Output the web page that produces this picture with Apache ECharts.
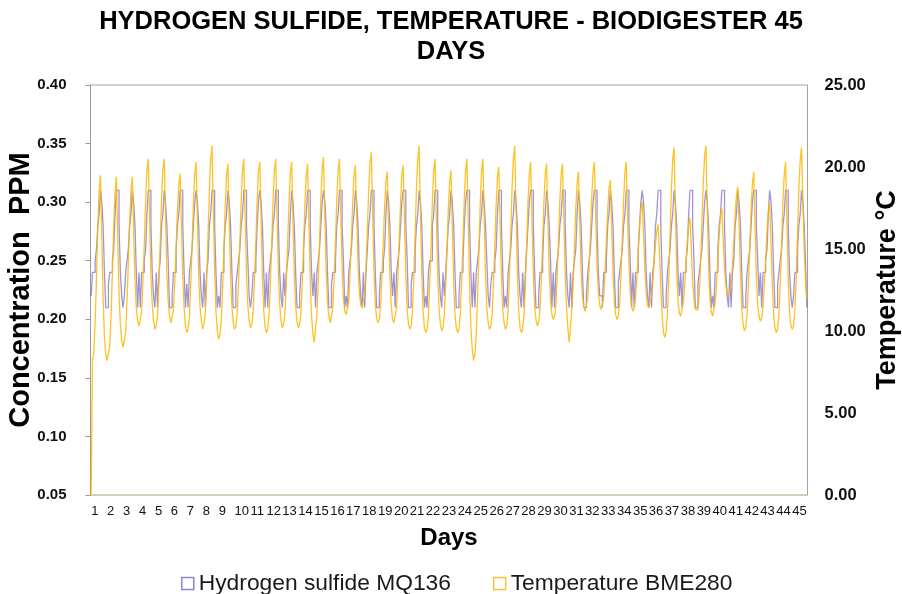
<!DOCTYPE html>
<html>
<head>
<meta charset="utf-8">
<script src="https://cdn.jsdelivr.net/npm/echarts@6/dist/echarts.min.js"></script>
<style>
  html, body { margin: 0; padding: 0; background: #fff; }
  #chart { width: 902px; height: 594px; }
</style>
</head>
<body>
<div id="chart"></div>
<script>
// day labels on the x axis, one reading every 2 hours
const days = [1, 2, 3, 4, 5, 6, 7, 8, 9, 10, 11, 12, 13, 14, 15, 16, 17, 18, 19, 20, 21, 22, 23,
  24, 25, 26, 27, 28, 29, 30, 31, 32, 33, 34, 35, 36, 37, 38, 39, 40, 41, 42, 43, 44, 45]
const samplesPerDay = 12

// Hydrogen sulfide MQ136 (ppm)
const h2s = [
  0.22, 0.24, 0.24, 0.25, 0.26, 0.28, 0.29, 0.31, 0.30, 0.28, 0.24, 0.21, // 1
  0.21, 0.23, 0.24, 0.24, 0.25, 0.26, 0.29, 0.31, 0.31, 0.28, 0.24, 0.22, // 2
  0.21, 0.22, 0.24, 0.25, 0.26, 0.28, 0.29, 0.31, 0.30, 0.28, 0.24, 0.21, // 3
  0.24, 0.21, 0.24, 0.24, 0.25, 0.26, 0.29, 0.31, 0.31, 0.28, 0.24, 0.22, // 4
  0.21, 0.24, 0.21, 0.24, 0.25, 0.28, 0.29, 0.31, 0.30, 0.28, 0.25, 0.21, // 5
  0.21, 0.22, 0.24, 0.24, 0.26, 0.28, 0.29, 0.31, 0.31, 0.28, 0.24, 0.21, // 6
  0.23, 0.21, 0.24, 0.25, 0.26, 0.28, 0.30, 0.31, 0.30, 0.28, 0.24, 0.22, // 7
  0.21, 0.24, 0.21, 0.24, 0.25, 0.28, 0.29, 0.31, 0.31, 0.28, 0.24, 0.21, // 8
  0.22, 0.21, 0.24, 0.24, 0.26, 0.28, 0.29, 0.31, 0.30, 0.28, 0.24, 0.21, // 9
  0.21, 0.23, 0.24, 0.25, 0.26, 0.28, 0.29, 0.31, 0.31, 0.28, 0.25, 0.22, // 10
  0.21, 0.22, 0.24, 0.24, 0.25, 0.28, 0.30, 0.31, 0.30, 0.28, 0.24, 0.21, // 11
  0.24, 0.21, 0.24, 0.25, 0.26, 0.28, 0.29, 0.31, 0.31, 0.28, 0.24, 0.22, // 12
  0.21, 0.24, 0.22, 0.24, 0.25, 0.26, 0.29, 0.31, 0.30, 0.28, 0.24, 0.21, // 13
  0.21, 0.22, 0.24, 0.24, 0.26, 0.28, 0.29, 0.31, 0.31, 0.28, 0.24, 0.22, // 14
  0.24, 0.21, 0.24, 0.25, 0.26, 0.28, 0.30, 0.31, 0.30, 0.28, 0.24, 0.21, // 15
  0.21, 0.23, 0.24, 0.24, 0.25, 0.28, 0.29, 0.31, 0.31, 0.28, 0.25, 0.21, // 16
  0.22, 0.21, 0.24, 0.25, 0.26, 0.28, 0.29, 0.31, 0.30, 0.28, 0.24, 0.22, // 17
  0.21, 0.24, 0.21, 0.24, 0.26, 0.28, 0.29, 0.31, 0.31, 0.28, 0.24, 0.21, // 18
  0.21, 0.22, 0.24, 0.24, 0.25, 0.26, 0.29, 0.31, 0.30, 0.28, 0.24, 0.22, // 19
  0.24, 0.21, 0.24, 0.25, 0.26, 0.28, 0.30, 0.31, 0.31, 0.28, 0.25, 0.21, // 20
  0.21, 0.23, 0.24, 0.24, 0.26, 0.28, 0.29, 0.31, 0.30, 0.28, 0.24, 0.21, // 21
  0.22, 0.21, 0.24, 0.25, 0.25, 0.28, 0.29, 0.31, 0.31, 0.28, 0.24, 0.22, // 22
  0.21, 0.24, 0.22, 0.24, 0.26, 0.28, 0.29, 0.31, 0.30, 0.28, 0.24, 0.21, // 23
  0.21, 0.22, 0.24, 0.24, 0.25, 0.28, 0.30, 0.31, 0.31, 0.28, 0.24, 0.21, // 24
  0.24, 0.21, 0.24, 0.25, 0.26, 0.28, 0.29, 0.31, 0.30, 0.28, 0.25, 0.22, // 25
  0.21, 0.23, 0.24, 0.24, 0.25, 0.26, 0.29, 0.31, 0.31, 0.28, 0.24, 0.21, // 26
  0.22, 0.21, 0.24, 0.25, 0.26, 0.28, 0.29, 0.31, 0.30, 0.28, 0.24, 0.22, // 27
  0.21, 0.24, 0.21, 0.24, 0.26, 0.28, 0.30, 0.31, 0.31, 0.28, 0.24, 0.21, // 28
  0.21, 0.22, 0.24, 0.24, 0.25, 0.28, 0.29, 0.31, 0.30, 0.28, 0.25, 0.21, // 29
  0.24, 0.21, 0.24, 0.25, 0.26, 0.28, 0.29, 0.31, 0.31, 0.28, 0.24, 0.22, // 30
  0.21, 0.24, 0.21, 0.24, 0.25, 0.26, 0.29, 0.31, 0.30, 0.28, 0.24, 0.21, // 31
  0.21, 0.22, 0.24, 0.25, 0.26, 0.28, 0.30, 0.31, 0.31, 0.28, 0.24, 0.22, // 32
  0.22, 0.21, 0.24, 0.24, 0.25, 0.28, 0.29, 0.31, 0.30, 0.28, 0.24, 0.21, // 33
  0.21, 0.23, 0.24, 0.25, 0.26, 0.28, 0.29, 0.31, 0.31, 0.28, 0.25, 0.21, // 34
  0.24, 0.21, 0.24, 0.24, 0.26, 0.28, 0.30, 0.31, 0.30, 0.28, 0.24, 0.22, // 35
  0.21, 0.24, 0.21, 0.24, 0.25, 0.28, 0.29, 0.31, 0.31, 0.28, 0.24, 0.21, // 36
  0.21, 0.22, 0.24, 0.25, 0.26, 0.28, 0.29, 0.31, 0.30, 0.28, 0.24, 0.22, // 37
  0.24, 0.21, 0.24, 0.24, 0.25, 0.26, 0.29, 0.31, 0.31, 0.28, 0.25, 0.21, // 38
  0.21, 0.23, 0.24, 0.25, 0.26, 0.28, 0.30, 0.31, 0.30, 0.28, 0.24, 0.21, // 39
  0.22, 0.21, 0.24, 0.24, 0.26, 0.28, 0.29, 0.31, 0.31, 0.28, 0.24, 0.22, // 40
  0.21, 0.24, 0.21, 0.24, 0.25, 0.28, 0.29, 0.31, 0.30, 0.28, 0.24, 0.21, // 41
  0.21, 0.22, 0.24, 0.25, 0.26, 0.28, 0.30, 0.31, 0.31, 0.28, 0.25, 0.22, // 42
  0.24, 0.21, 0.24, 0.24, 0.25, 0.26, 0.29, 0.31, 0.30, 0.28, 0.24, 0.21, // 43
  0.21, 0.23, 0.24, 0.25, 0.26, 0.28, 0.29, 0.31, 0.31, 0.28, 0.24, 0.22, // 44
  0.21, 0.22, 0.24, 0.24, 0.26, 0.28, 0.29, 0.31, 0.30, 0.28, 0.25, 0.21  // 45
]

// Temperature BME280 (°C)
const temperature = [
  0.0, 8.2, 8.7, 10.6, 13.2, 16.4, 18.6, 19.5, 15.8, 12.0, 9.6, 8.6,          // 1
  8.2, 8.3, 9.1, 11.0, 13.6, 16.5, 18.5, 19.4, 15.6, 12.2, 10.4, 9.4,         // 2
  9.0, 9.1, 9.9, 11.8, 14.2, 16.8, 18.6, 19.4, 16.0, 13.1, 11.4, 10.6,        // 3
  10.3, 10.4, 11.2, 13.0, 15.3, 17.9, 19.8, 20.5, 16.8, 13.4, 11.6, 10.6,     // 4
  10.1, 10.3, 11.0, 12.9, 15.4, 18.1, 19.9, 20.5, 16.9, 13.5, 11.8, 10.9,     // 5
  10.5, 10.6, 11.3, 13.1, 15.2, 17.4, 19.0, 19.6, 16.4, 13.2, 11.4, 10.3,     // 6
  9.9, 10.1, 10.9, 12.8, 15.2, 17.8, 19.6, 20.3, 16.7, 13.3, 11.5, 10.6,      // 7
  10.1, 10.4, 11.2, 13.2, 15.8, 18.6, 20.5, 21.3, 17.4, 13.6, 11.2, 10.0,     // 8
  9.5, 9.8, 10.6, 12.6, 15.1, 17.7, 19.5, 20.2, 16.6, 13.3, 11.5, 10.5,       // 9
  10.1, 10.3, 11.1, 13.0, 15.4, 18.0, 19.8, 20.5, 16.8, 13.4, 11.6, 10.6,     // 10
  10.2, 10.4, 11.2, 13.1, 15.4, 17.9, 19.7, 20.3, 16.7, 13.2, 11.2, 10.2,     // 11
  9.9, 10.1, 11.0, 12.9, 15.3, 18.0, 19.8, 20.5, 16.9, 13.5, 11.6, 10.6,      // 12
  10.2, 10.4, 11.2, 13.0, 15.4, 17.9, 19.6, 20.3, 16.7, 13.4, 11.5, 10.6,     // 13
  10.2, 10.4, 11.1, 13.0, 15.3, 17.8, 19.5, 20.2, 16.5, 13.1, 10.9, 9.8,      // 14
  9.3, 10.2, 11.0, 12.9, 15.4, 18.1, 19.9, 20.6, 16.9, 13.6, 11.8, 10.9,      // 15
  10.5, 10.6, 11.4, 13.2, 15.5, 18.0, 19.8, 20.5, 17.0, 13.8, 12.0, 11.2,     // 16
  11.0, 11.1, 11.8, 13.5, 15.6, 17.9, 19.5, 20.1, 16.9, 13.9, 12.3, 11.6,     // 17
  11.4, 11.5, 12.2, 13.9, 16.1, 18.6, 20.2, 20.9, 17.3, 13.6, 11.6, 10.8,     // 18
  10.5, 10.7, 11.5, 13.3, 15.4, 17.6, 19.1, 19.7, 16.4, 13.4, 11.5, 10.7,     // 19
  10.5, 10.6, 11.4, 13.2, 15.5, 17.8, 19.5, 20.1, 16.6, 13.3, 11.3, 10.4,     // 20
  10.1, 10.3, 11.2, 13.3, 15.9, 18.7, 20.5, 21.3, 17.3, 13.5, 11.2, 10.2,     // 21
  9.9, 10.1, 11.0, 12.9, 15.3, 18.0, 19.8, 20.5, 16.8, 13.4, 11.4, 10.4,      // 22
  10.0, 10.2, 11.0, 12.8, 15.0, 17.5, 19.1, 19.8, 16.3, 13.0, 11.0, 10.2,     // 23
  9.9, 10.1, 11.0, 12.9, 15.3, 18.0, 19.8, 20.5, 16.5, 12.8, 10.2, 8.9,       // 24
  8.2, 8.6, 9.8, 12.0, 14.8, 17.7, 19.7, 20.5, 16.8, 13.4, 11.4, 10.5,        // 25
  10.1, 10.3, 11.1, 12.9, 15.2, 17.7, 19.4, 20.0, 16.5, 13.2, 11.3, 10.5,     // 26
  10.1, 10.3, 11.2, 13.3, 15.9, 18.7, 20.5, 21.3, 17.3, 13.5, 11.2, 10.2,     // 27
  9.9, 10.1, 11.0, 12.9, 15.2, 17.9, 19.6, 20.3, 16.7, 13.4, 11.5, 10.7,      // 28
  10.3, 10.5, 11.3, 13.1, 15.4, 17.9, 19.6, 20.2, 16.7, 13.6, 11.8, 11.0,     // 29
  10.7, 10.9, 11.6, 13.4, 15.6, 18.0, 19.6, 20.2, 16.8, 13.5, 11.4, 10.2,     // 30
  9.3, 10.3, 11.2, 13.0, 15.1, 17.5, 19.1, 19.7, 16.5, 13.6, 12.1, 11.5,      // 31
  11.2, 11.3, 12.0, 13.8, 15.9, 18.2, 19.7, 20.3, 17.0, 14.0, 12.3, 11.6,     // 32
  11.3, 11.4, 12.0, 13.6, 15.5, 17.3, 18.7, 19.2, 16.3, 13.6, 11.8, 11.0,     // 33
  10.7, 10.9, 11.6, 13.4, 15.6, 18.0, 19.7, 20.3, 16.9, 14.0, 12.3, 11.5,     // 34
  11.2, 11.4, 12.0, 13.3, 14.8, 16.3, 17.4, 17.9, 15.8, 13.8, 12.3, 11.6,     // 35
  11.4, 11.5, 12.1, 13.0, 14.2, 15.3, 16.1, 16.5, 14.8, 12.8, 11.0, 9.9,      // 36
  9.6, 10.0, 11.0, 13.2, 15.9, 18.7, 20.5, 21.2, 17.2, 13.7, 11.8, 11.1,      // 37
  10.9, 11.0, 11.7, 12.8, 14.2, 15.5, 16.5, 16.9, 15.0, 13.0, 11.9, 11.3,     // 38
  11.2, 11.3, 12.2, 14.2, 16.6, 19.0, 20.7, 21.3, 17.5, 14.0, 12.0, 11.2,     // 39
  10.9, 11.0, 11.7, 12.9, 14.4, 15.9, 17.0, 17.5, 15.6, 13.8, 12.8, 12.3,     // 40
  12.1, 12.2, 12.8, 14.0, 15.5, 17.1, 18.3, 18.8, 16.3, 13.5, 11.4, 10.4,     // 41
  10.0, 10.2, 11.0, 12.8, 15.0, 17.4, 19.0, 19.7, 16.4, 13.4, 11.6, 10.9,     // 42
  10.6, 10.8, 11.5, 12.8, 14.4, 16.1, 17.3, 17.8, 15.4, 12.9, 11.0, 10.2,     // 43
  9.9, 10.1, 11.0, 12.9, 15.3, 17.9, 19.6, 20.3, 16.6, 13.2, 11.1, 10.3,      // 44
  10.1, 10.3, 11.2, 13.3, 15.9, 18.7, 20.4, 21.2, 18.0, 15.0, 13.0, 12.0      // 45
]

// one category per reading, labelled with its day
const categories = []
days.forEach(d => {
  for (let i = 0; i < samplesPerDay; i++) categories.push(String(d))
})

const purple = 'rgba(100, 84, 188, 0.62)'
const gold = 'rgba(252, 184, 0, 0.85)'
const sans = "'Liberation Sans', Arial, sans-serif"

const chart = echarts.init(document.getElementById('chart'))

chart.setOption({
  animation: false,
  backgroundColor: '#fff',
  title: {
    text: 'HYDROGEN SULFIDE, TEMPERATURE - BIODIGESTER 45\nDAYS',
    left: 'center',
    top: 7,
    padding: 0,
    textStyle: { fontFamily: sans, fontSize: 25.5, fontWeight: 'bold', color: '#000', lineHeight: 30 }
  },
  legend: {
    left: 181,
    top: 572,
    padding: 0,
    icon: 'rect',
    itemWidth: 12,
    itemHeight: 12,
    itemGap: 42,
    textStyle: { fontFamily: sans, fontSize: 22.8, color: '#1a1a1a' },
    data: [
      { name: 'Hydrogen sulfide MQ136', itemStyle: { color: '#fff', borderColor: '#8f84d2', borderWidth: 1.5 } },
      { name: 'Temperature BME280', itemStyle: { color: '#fff', borderColor: '#f7c232', borderWidth: 1.5 } }
    ]
  },
  grid: {
    left: 90.5,
    right: 94.5,
    top: 85,
    bottom: 99,
    outerBoundsMode: 'none',
    show: true,
    borderColor: '#a3a3a3',
    borderWidth: 1
  },
  xAxis: {
    type: 'category',
    data: categories,
    boundaryGap: true,
    axisLine: { lineStyle: { color: '#d8cfa3' } },
    axisTick: { show: false },
    axisLabel: {
      interval: (index) => index % samplesPerDay === 0,
      align: 'left',
      margin: 10,
      fontFamily: sans,
      fontSize: 13,
      color: '#111'
    },
    splitLine: { show: false },
    name: 'Days',
    nameLocation: 'middle',
    nameGap: 31,
    nameMoveOverlap: false,
    nameTextStyle: { fontFamily: sans, fontSize: 24, fontWeight: 'bold', color: '#000' }
  },
  yAxis: [
    {
      type: 'value',
      min: 0.05,
      max: 0.4,
      interval: 0.05,
      position: 'left',
      axisLine: { show: true, lineStyle: { color: '#9a9a9a' } },
      axisTick: { show: true, length: 5, lineStyle: { color: '#9a9a9a' } },
      axisLabel: {
        formatter: v => v.toFixed(2),
        margin: 24,
        fontFamily: sans,
        fontSize: 15,
        fontWeight: 'bold',
        color: '#111'
      },
      splitLine: { show: false },
      name: 'Concentration  PPM',
      nameLocation: 'middle',
      nameRotate: 90,
      nameGap: 55,
      nameMoveOverlap: false,
      nameTextStyle: { fontFamily: sans, fontSize: 29, fontWeight: 'bold', color: '#000' }
    },
    {
      type: 'value',
      min: 0,
      max: 25,
      interval: 5,
      position: 'right',
      axisLine: { show: false },
      axisTick: { show: false },
      axisLabel: {
        formatter: v => v.toFixed(2),
        margin: 17,
        fontFamily: sans,
        fontSize: 16.5,
        fontWeight: 'bold',
        color: '#111'
      },
      splitLine: { show: false },
      name: 'Temperature °C',
      nameLocation: 'middle',
      nameRotate: 90,
      nameGap: 67,
      nameMoveOverlap: false,
      nameTextStyle: { fontFamily: sans, fontSize: 27, fontWeight: 'bold', color: '#000' }
    }
  ],
  series: [
    {
      name: 'Hydrogen sulfide MQ136',
      type: 'line',
      yAxisIndex: 0,
      data: h2s,
      step: 'end',
      symbol: 'none',
      lineStyle: { color: purple, width: 1.3 },
      itemStyle: { color: purple }
    },
    {
      name: 'Temperature BME280',
      type: 'line',
      yAxisIndex: 1,
      data: temperature,
      symbol: 'none',
      lineStyle: { color: gold, width: 1.3 },
      itemStyle: { color: gold }
    }
  ]
})
</script>
</body>
</html>
